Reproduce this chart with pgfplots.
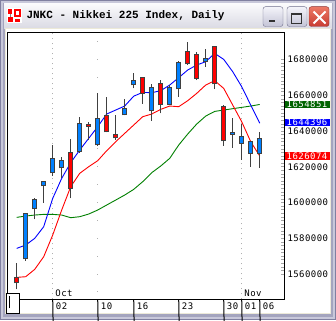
\documentclass[border=0pt]{standalone}
\usepackage{fontspec}
\usepackage{pgfplots}
\pgfplotsset{compat=1.18}
\usepackage{pgfplotstable}
\newfontfamily\monofont{DejaVu Sans Mono}[LetterSpace=5]
\newfontfamily\titlefont{Liberation Mono}
\newcommand\tfont{\monofont\fontsize{9}{10}\selectfont}
\definecolor{cblue}{RGB}{0,128,255}
\definecolor{cred}{RGB}{255,0,0}
\definecolor{wick}{RGB}{64,64,64}
\definecolor{mablue}{RGB}{0,0,255}
\definecolor{mared}{RGB}{255,0,0}
\definecolor{magreen}{RGB}{0,128,0}
\definecolor{lblgreen}{RGB}{0,100,0}
\definecolor{griddot}{RGB}{176,176,176}
\definecolor{frameA}{RGB}{128,128,160}
\definecolor{frameB}{RGB}{200,200,218}
\definecolor{frameC}{RGB}{164,164,190}
\definecolor{cream}{RGB}{236,233,216}
\definecolor{btnborder}{RGB}{110,110,140}

\pgfplotstableread{
x o h l c
-3 1568210 1594320 1567470 1593940
-2 1596180 1602710 1590590 1601780
-1 1609050 1612220 1599910 1612030
0 1616320 1632170 1614830 1624710
1 1619120 1625460 1613900 1623590
3 1628440 1647650 1627880 1644290
5 1631980 1661450 1631610 1647090
8 1648760 1657720 1648760 1652680
9 1665550 1672630 1663870 1668350
11 1651000 1666290 1645780 1664430
13 1654730 1665740 1654550 1664430
14 1663310 1679350 1659210 1678420
17 1678790 1685870 1675990 1680650
20 1637950 1647270 1630680 1639440
21 1632920 1643730 1623970 1637020
22 1627320 1634410 1620050 1634220
23 1626950 1639440 1619490 1636090
}\upcandles

\pgfplotstableread{
x o h l c
-4 1558510 1566350 1551430 1554790
2 1628070 1635720 1602340 1607370
4 1643730 1645040 1634970 1642430
6 1648760 1659020 1639260 1639260
7 1638140 1648950 1634970 1635900
10 1670020 1670020 1655290 1660700
12 1666670 1668530 1649890 1654360
15 1684570 1689790 1677110 1677300
16 1682890 1684200 1668530 1669280
18 1687370 1687740 1663500 1666110
19 1653800 1654360 1631800 1634220
}\downcandles

\pgfplotstableread{
x b r g
-4 1574360 1558140 1591710
-3 1576230 1558510 1592450
-2 1579960 1562620 1593010
-1 1586490 1569700 1593380
0 1602330 1581820 1593380
1 1613530 1595810 1593010
2 1622290 1608860 1591520
3 1629370 1616320 1592080
4 1635900 1620050 1593570
5 1642430 1623410 1595810
6 1649510 1629000 1598610
7 1651750 1634040 1601400
8 1653990 1638700 1604200
9 1659500 1643360 1607370
10 1661630 1648020 1611660
11 1661450 1649510 1616690
12 1662570 1652120 1620420
13 1665740 1653990 1624710
14 1669840 1653610 1632170
15 1674130 1656970 1638320
16 1676920 1661070 1643910
17 1678790 1665740 1648380
18 1683450 1668160 1650990
19 1680090 1663870 1651750
20 1673190 1654550 1652500
21 1664800 1645220 1653240
22 1654550 1634040 1653990
23 1644400 1626070 1654850
}\ma

\pgfplotsset{
  candlebar/.style 2 args={draw=none, mark=none,
    error bars/.cd, y dir=plus, y explicit, error mark=none,
    error bar style={draw=#1, line width=#2, line cap=butt, solid}},
}

\begin{document}
\begin{tikzpicture}
\path[use as bounding box] (0,0) rectangle (336pt,320pt);
% ---------- window frame ----------
\begin{scope}[x=1pt,y=1pt]
\fill[frameA] (0,0) rectangle (336,320);
\fill[frameB] (1,1) rectangle (335,319);
\fill[frameC] (3,3) rectangle (333,317);
\shade[top color={rgb,255:red,250;green,250;blue,252}, bottom color={rgb,255:red,218;green,218;blue,228}] (4,291.5) rectangle (332,316);
\fill[cream] (5,6) rectangle (331,291.5);
\fill[white] (6,7) rectangle (330,291);
% icon
\fill[white] (7,296.7) rectangle (21.7,311.7);
\fill[cred] (8,306) rectangle (12,310.5);
\fill[cred] (14,303) rectangle (20.5,310.5);
\fill[white] (16,305) rectangle (18.5,308.5);
\fill[cred] (8,298) rectangle (13,303);
\fill[cred] (15,298) rectangle (20,301);
\fill[gray] (10,303) rectangle (11,306);
% title
\node[anchor=west, inner sep=0pt] at (26.3,304) {\titlefont\bfseries\fontsize{11}{12}\selectfont JNKC - Nikkei 225 Index, Daily};
% buttons
\shade[top color={rgb,255:red,244;green,244;blue,250}, bottom color={rgb,255:red,196;green,196;blue,214}, draw=btnborder, rounded corners=2.5pt] (263,293.5) rectangle (283,313.3);
\fill[black!80] (269.3,297.5) rectangle (275.3,300);
\shade[top color={rgb,255:red,244;green,244;blue,250}, bottom color={rgb,255:red,196;green,196;blue,214}, draw=btnborder, rounded corners=2.5pt] (287,293.5) rectangle (307,313.3);
\draw[black!80, line width=1pt] (291.2,296.5) rectangle (301.2,306.8);
\fill[black!80] (290.7,304.8) rectangle (301.7,307.3);
\shade[top color={rgb,255:red,236;green,120;blue,100}, bottom color={rgb,255:red,200;green,60;blue,50}, draw={rgb,255:red,140;green,50;blue,50}, rounded corners=2.5pt] (309,293.5) rectangle (329,313.3);
\draw[white, line width=2pt] (313.5,296.5) -- (325.5,308.5) (313.5,308.5) -- (325.5,296.5);
\end{scope}
% ---------- chart ----------
\begin{axis}[
  at={(7pt,21pt)}, anchor=south west, scale only axis,
  width=277.3pt, height=267pt,
  xmin=-5.078, xmax=25.733, ymin=1546024, ymax=1695384,
  axis line style={black, line width=1pt},
  xtick=\empty,
  ytick={1560000,1580000,1600000,1620000,1640000,1660000,1680000},
  yticklabels={1560000,1580000,1600000,1620000,1640000,1660000,1680000},
  scaled y ticks=false,
  ytick pos=right, yticklabel pos=right,
  minor y tick num=9,
  major tick length=3pt, minor tick length=3pt,
  tick style={color=gray!70, line width=0.6pt},
  yticklabel style={font=\tfont, anchor=west, inner sep=0pt, xshift=3pt, text=black},
  clip mode=individual,
]
% grid dots
\draw[griddot, line width=0.8pt, dash pattern=on 1pt off 4pt] (axis cs:0,1546024) -- (axis cs:0,1695384);
\draw[griddot, line width=0.8pt, dash pattern=on 1pt off 4pt] (axis cs:21,1546024) -- (axis cs:21,1695384);
\pgfplotsinvokeforeach{5,9,14,19,23}{%
  \pgfplotsinvokeforeach{1550000,1560000,1570000,1580000,1590000,1600000,1610000,1620000,1630000,1640000,1650000,1660000,1670000,1680000,1690000}{%
    \fill[griddot] (axis cs:#1,##1) ++(-0.5pt,-0.5pt) rectangle ++(1pt,1pt);}}
% moving averages
\addplot[magreen, line width=0.9pt, mark=none] table[x=x, y=g] {\ma};
\addplot[mared, line width=0.9pt, mark=none] table[x=x, y=r] {\ma};
\addplot[mablue, line width=0.9pt, mark=none] table[x=x, y=b] {\ma};
% wicks
\addplot[candlebar={wick}{1pt}]
  table[x=x, y=l, y error plus expr=\thisrow{h}-\thisrow{l}] {\upcandles};
\addplot[candlebar={wick}{1pt}]
  table[x=x, y=l, y error plus expr=\thisrow{h}-\thisrow{l}] {\downcandles};
% body outlines
\addplot[candlebar={wick}{5pt}]
  table[x=x, y expr={min(\thisrow{o},\thisrow{c})}, y error plus expr={abs(\thisrow{c}-\thisrow{o})}] {\upcandles};
\addplot[candlebar={wick}{5pt}]
  table[x=x, y expr={min(\thisrow{o},\thisrow{c})}, y error plus expr={abs(\thisrow{c}-\thisrow{o})}] {\downcandles};
% body fills
\addplot[candlebar={cblue}{3pt}]
  table[x=x, y expr={min(\thisrow{o},\thisrow{c})+559.4}, y error plus expr={abs(\thisrow{c}-\thisrow{o})-1118.8}] {\upcandles};
\addplot[candlebar={cred}{3pt}]
  table[x=x, y expr={min(\thisrow{o},\thisrow{c})+559.4}, y error plus expr={abs(\thisrow{c}-\thisrow{o})-1118.8}] {\downcandles};
% value labels
\node[fill=lblgreen, text=white, font=\tfont, minimum width=45pt, minimum height=7.4pt, inner sep=0pt, anchor=west] at (axis cs:25.733,1654851) {1654851};
\node[fill=mablue, text=white, font=\tfont, minimum width=45pt, minimum height=7.4pt, inner sep=0pt, anchor=west] at (axis cs:25.733,1644700) {1644396};
\node[fill=mared, text=white, font=\tfont, minimum width=45pt, minimum height=7.4pt, inner sep=0pt, anchor=west] at (axis cs:25.733,1626074) {1626074};
% x ticks and labels
\pgfplotsinvokeforeach{0,5,9,14,19,21,23}{\draw[black, line width=1pt] (axis cs:#1,1546024) -- ++(0,-12.5pt);}
\node[font=\tfont, inner sep=0pt, anchor=west, xshift=3pt, yshift=-7pt] at (axis cs:0,1546024) {02};
\node[font=\tfont, inner sep=0pt, anchor=west, xshift=3pt, yshift=-7pt] at (axis cs:5,1546024) {10};
\node[font=\tfont, inner sep=0pt, anchor=west, xshift=3pt, yshift=-7pt] at (axis cs:9,1546024) {16};
\node[font=\tfont, inner sep=0pt, anchor=west, xshift=3pt, yshift=-7pt] at (axis cs:14,1546024) {23};
\node[font=\tfont, inner sep=0pt, anchor=west, xshift=3pt, yshift=-7pt] at (axis cs:19,1546024) {30};
\node[font=\tfont, inner sep=0pt, anchor=west, xshift=3pt, yshift=-7pt] at (axis cs:21,1546024) {01};
\node[font=\tfont, inner sep=0pt, anchor=west, xshift=3pt, yshift=-7pt] at (axis cs:23,1546024) {06};
\node[font=\tfont, inner sep=0pt, anchor=south west, xshift=2.5pt, yshift=1.8pt] at (axis cs:0,1546024) {Oct};
\node[font=\tfont, inner sep=0pt, anchor=south west, xshift=2.5pt, yshift=1.8pt] at (axis cs:21,1546024) {Nov};
\end{axis}
\begin{scope}[x=1pt,y=1pt]
\draw[black, line width=1pt, fill=white] (6.7,6.7) rectangle (19.3,26.7);
\draw[black, line width=1pt] (9.3,11.5) -- (9.3,23.5);
\end{scope}
\end{tikzpicture}
\end{document}
